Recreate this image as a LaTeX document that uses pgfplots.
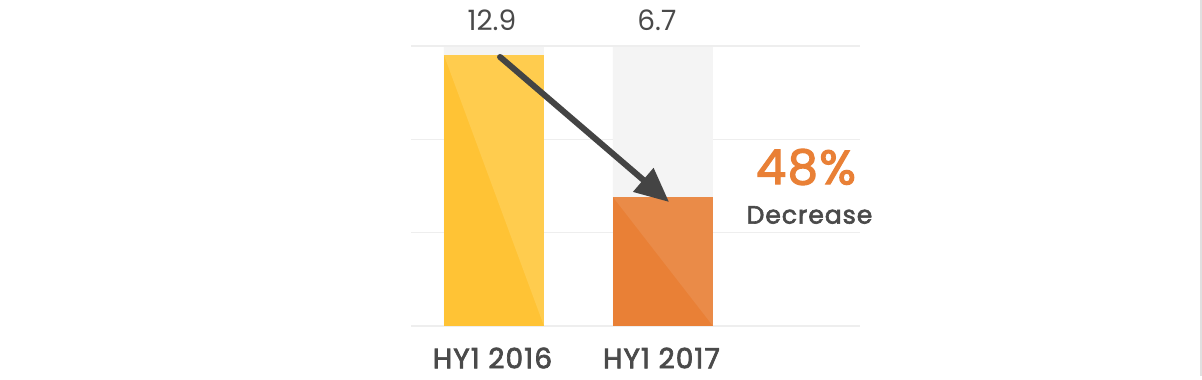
\documentclass[border=0pt]{standalone}
\usepackage{fontspec}
\setmainfont{Poppins}
\newfontfamily\pmed[FakeBold=2.5,LetterSpace=4]{Poppins}
\newfontfamily\pmedB[FakeBold=2.5,LetterSpace=3]{Poppins}
\usepackage{pgfplots}
\pgfplotsset{compat=1.18}
\usetikzlibrary{arrows.meta}
\definecolor{bgbar}{HTML}{F4F4F4}
\definecolor{gridc}{HTML}{EEEEEE}
\definecolor{ydark}{HTML}{FFC335}
\definecolor{ylight}{HTML}{FFCC4E}
\definecolor{odark}{HTML}{E98036}
\definecolor{olight}{HTML}{EA8B48}
\definecolor{txt}{HTML}{4A4A4A}
\definecolor{arrowc}{HTML}{444444}
\begin{document}
\begin{tikzpicture}
\useasboundingbox[fill=white] (0pt,0pt) rectangle (1202pt,380pt);
\draw[color=black!12, line width=2pt] (1200.5pt,4pt) -- (1200.5pt,380pt);
\begin{axis}[
  at={(411pt,54pt)}, anchor=south west,
  scale only axis, width=449pt, height=280pt,
  xmin=-0.491, xmax=2.166, ymin=0, ymax=13.333,
  axis line style={draw=none},
  xtick={0,1}, xticklabels={HY1 2016, HY1 2017},
  ytick={0,4.444,8.889,13.333}, yticklabels={},
  major tick length=0pt,
  ymajorgrids, grid style={color=gridc, line width=1.5pt},
  xticklabel style={anchor=center, yshift=-32pt, xshift=-1.5pt, font=\pmed\fontsize{28}{30}\selectfont, text=txt},
  clip=false,
]
\addplot[ybar, bar width=0.592, bar shift=0pt, fill=bgbar, draw=none] coordinates {(0,13.286) (1,13.286)};
\addplot[ybar, bar width=0.592, bar shift=0pt, fill=ydark, draw=none] coordinates {(0,12.9)};
\addplot[ybar, bar width=0.592, bar shift=0pt, fill=odark, draw=none] coordinates {(1,6.14)};
\addplot[fill=ylight, draw=none] coordinates {(-0.296,12.9) (0.296,12.9) (0.296,0) (-0.296,12.9)};
\addplot[fill=olight, draw=none] coordinates {(0.704,6.14) (1.296,6.14) (1.296,0) (0.704,6.14)};
\draw[arrowc, line width=6pt, line cap=round, -{Triangle[length=34pt,width=30pt]}]
  (axis cs:0.036,12.81) -- (axis cs:1.036,5.905);
\node[text=txt, font=\fontsize{28}{30}\selectfont] at (axis cs:-0.012,14.57) {12.9};
\node[text=txt, font=\fontsize{28}{30}\selectfont] at (axis cs:0.964,14.57) {6.7};
\node[text=odark, font=\pmedB\fontsize{48}{50}\selectfont] at (axis cs:1.846,7.571) {48\%};
\node[text=txt, font=\pmed\fontsize{25}{27}\selectfont] at (axis cs:1.867,5.286) {Decrease};
\end{axis}
\end{tikzpicture}
\end{document}
